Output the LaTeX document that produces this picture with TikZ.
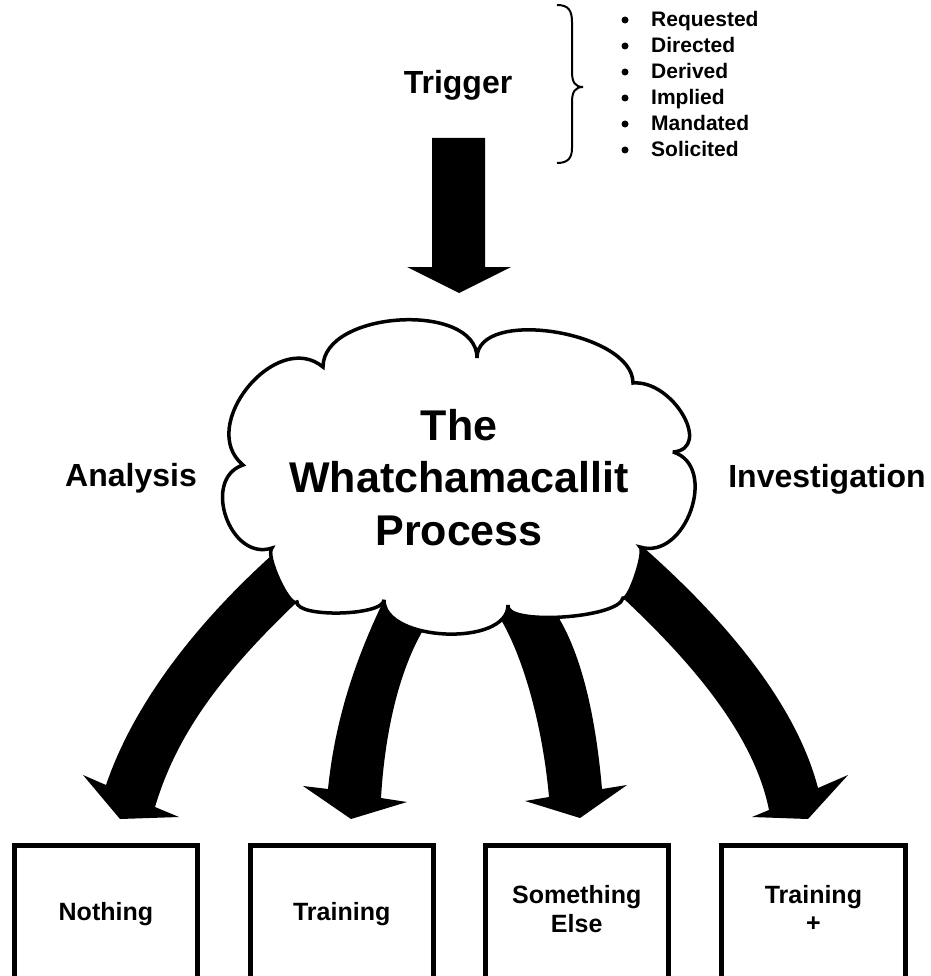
\documentclass[tikz,border=0pt]{standalone}
\usepackage{fontspec}
\setmainfont{Liberation Sans}
\usetikzlibrary{calc}
\begin{document}
\begin{tikzpicture}[x=1pt,y=-1pt,
  biglbl/.style={font=\fontsize{32}{38}\selectfont\bfseries, inner sep=0pt, anchor=base},
  cloudtxt/.style={font=\fontsize{43}{52}\selectfont\bfseries, inner sep=0pt, anchor=base},
  itemtxt/.style={font=\fontsize{21}{26}\selectfont\bfseries, inner sep=0pt, anchor=base west},
  listdot/.style={circle, fill=black, inner sep=0pt, minimum size=7pt},
  boxtxt/.style={font=\fontsize{25}{29}\selectfont\bfseries, inner sep=0pt, anchor=base},
  outcome/.style={draw=black, line width=5pt, inner sep=0pt, minimum width=183.3pt, minimum height=136pt},
  blockarrow/.style={fill=black},
  cloudshape/.style={draw=black, fill=white, line width=3.5pt, line join=miter, miter limit=4}]

\useasboundingbox (0,0) rectangle (930,976);

% ---- trigger arrow
\coordinate (ttop) at (459,138);
\coordinate (ttip) at (459,293);
\fill[blockarrow] ($(ttop)+(-27,0)$) -- ($(ttop)+(26,0)$) -- (485,267) -- (511,267) -- (ttip) -- (407,267) -- (432,267) -- cycle;

% ---- curved block arrows (drawn behind the cloud)
\coordinate (tip1) at (120,819);
\coordinate (tip2) at (351,819);
\coordinate (tip3) at (580,818);
\coordinate (tip4) at (808,819);

\fill[blockarrow] (305,525) -- (272,555) .. controls (200,620) and (135,700) .. (106,785)
  -- (83,775) -- (tip1) -- (179,817) -- (155,807)
  .. controls (175,740) and (215,680) .. (297,602) -- (335,565) -- cycle;

\fill[blockarrow] (395,560) -- (384,600) .. controls (355,660) and (335,720) .. (328,789)
  -- (303,786) -- (tip2) -- (407,802) -- (381,798)
  .. controls (385,730) and (400,665) .. (428,622) -- (450,585) -- cycle;

\fill[blockarrow] (485,585) -- (500,618) .. controls (525,660) and (543,730) .. (549,797)
  -- (525,801) -- (tip3) -- (627,785) -- (602,789)
  .. controls (596,720) and (583,660) .. (560,620) -- (545,585) -- cycle;

\fill[blockarrow] (610,515) -- (643,547) .. controls (720,615) and (795,700) .. (818,788)
  -- (848,775) -- (tip4) -- (752,817) -- (769,810)
  .. controls (755,740) and (700,670) .. (623,598) -- (590,560) -- cycle;

% ---- cloud
\draw[cloudshape] (323,367)
  .. controls (323,310.3) and (477,301.3) .. (477,358)
  .. controls (477,306.7) and (633,331.7) .. (633,383)
  .. controls (673,379.7) and (713,448.7) .. (673,452)
  .. controls (719,466) and (686,561) .. (640,547)
  .. controls (646,550.3) and (629,601.3) .. (623,598)
  .. controls (618.3,618.7) and (503.3,625.7) .. (508,605)
  .. controls (508,647) and (384,642) .. (384,600)
  .. controls (383.3,616) and (296.3,618) .. (297,602)
  .. controls (289.7,608.7) and (264.7,554.7) .. (272,548)
  .. controls (230,562) and (201,479) .. (243,465)
  .. controls (196.3,426.3) and (276.3,328.3) .. cycle;

\node[cloudtxt] (proc1) at (459,440) {The};
\node[cloudtxt] (proc2) at (459,492) {Whatchamacallit};
\node[cloudtxt] (proc3) at (459,545) {Process};

% ---- labels
\node[biglbl] (trig) at (458,94) {Trigger};
\node[biglbl] (ana) at (131,486) {Analysis};
\node[biglbl] (inv) at (827,487) {Investigation};

% ---- outcome boxes
\node[outcome] (b1) at (105.9,913.9) {};
\node[outcome] (b2) at (341.7,913.9) {};
\node[outcome] (b3) at (576.7,913.9) {};
\node[outcome] (b4) at (813.4,913.9) {};

\node[boxtxt] (t1) at (105.9,920) {Nothing};
\node[boxtxt] (t2) at (341.7,920) {Training};
\node[boxtxt] (t3a) at (576.7,903) {Something};
\node[boxtxt] (t3b) at (576.7,932) {Else};
\node[boxtxt] (t4a) at (813.4,903) {Training};
\node[boxtxt] (t4b) at (813.4,931) {+};

% ---- brace and trigger list
\draw[line width=2pt] (557,5) .. controls (568,5) and (572,10) .. (572,22) -- (572,72)
  .. controls (572,82) and (575,87) .. (583,87)
  .. controls (575,87) and (572,92) .. (572,102) -- (572,148)
  .. controls (572,158) and (568,163) .. (557,163);

\foreach \txt [count=\i] in {Requested,Directed,Derived,Implied,Mandated,Solicited} {
  \node[listdot] (d\i) at (625,{27+26*(\i-1)-7}) {};
  \node[itemtxt] (it\i) at (651,{27+26*(\i-1)}) {\txt};
}
\end{tikzpicture}
\end{document}
